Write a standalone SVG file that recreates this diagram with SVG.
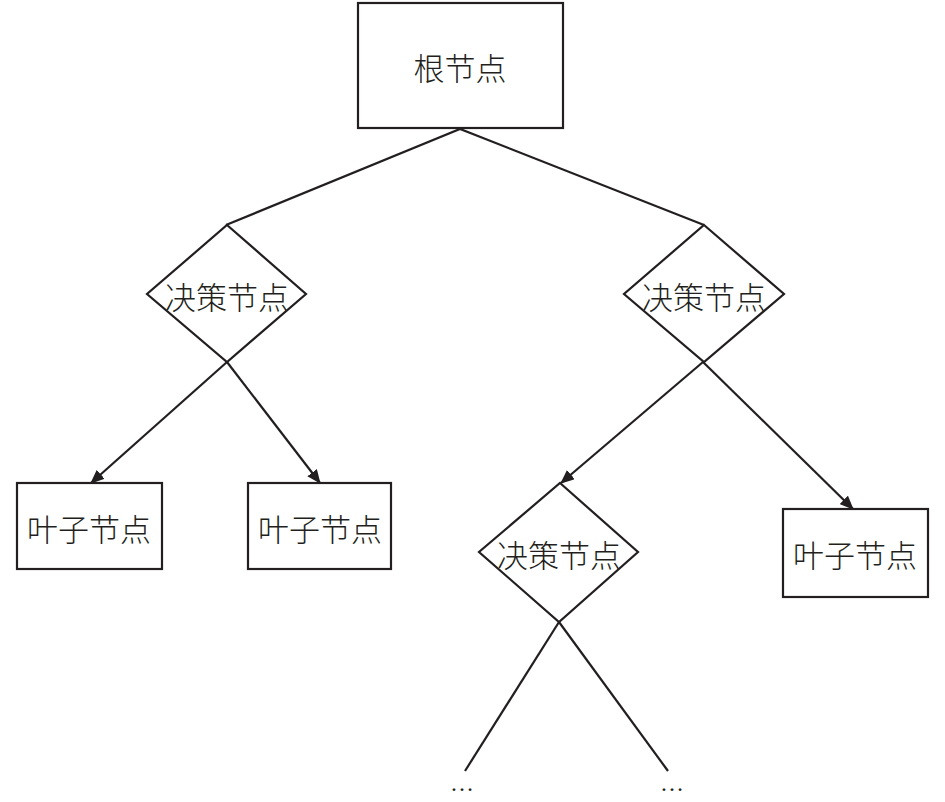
<svg xmlns="http://www.w3.org/2000/svg" width="945" height="802" viewBox="0 0 945 802">
<style>
.box{fill:#fff;stroke:#231f20;stroke-width:2.2}
.lbl{font-family:"Noto Sans CJK SC","Noto Sans CJK JP",sans-serif;font-size:31px;font-weight:300;fill:#231f20;text-anchor:middle;dominant-baseline:central}
.edge{fill:none;stroke:#231f20;stroke-width:2.2}
.dots{font-family:"Liberation Serif",serif;font-size:24px;fill:#231f20;text-anchor:middle}
</style>
<defs>
<marker id="arr" markerUnits="userSpaceOnUse" markerWidth="14" markerHeight="12" refX="13" refY="6" orient="auto">
<path d="M0,0 L14,6 L0,12 Z" fill="#231f20"/>
</marker>
</defs>
<g id="connectors">
<polyline class="edge" points="226,225 460,129 704,225"/>
<line class="edge" x1="227" y1="362" x2="91" y2="483" marker-end="url(#arr)"/>
<line class="edge" x1="227" y1="362" x2="320" y2="483" marker-end="url(#arr)"/>
<line class="edge" x1="703" y1="362" x2="561" y2="483" marker-end="url(#arr)"/>
<line class="edge" x1="703" y1="362" x2="853" y2="509" marker-end="url(#arr)"/>
<line class="edge" x1="559" y1="622" x2="465" y2="771"/>
<line class="edge" x1="559" y1="622" x2="668" y2="771"/>
</g>
<g id="root">
<rect class="box" x="358" y="3" width="205" height="125"/>
<text class="lbl" x="460" y="66">根节点</text>
</g>
<g id="decision1">
<polygon class="box" points="227,225 306,294 227,362 147,294"/>
<text class="lbl" x="227" y="295">决策节点</text>
</g>
<g id="decision2">
<polygon class="box" points="704,225 784,294 704,362 624,294"/>
<text class="lbl" x="704" y="295">决策节点</text>
</g>
<g id="leaf1">
<rect class="box" x="17" y="483" width="145" height="86"/>
<text class="lbl" x="89" y="527">叶子节点</text>
</g>
<g id="leaf2">
<rect class="box" x="248" y="483" width="143" height="86"/>
<text class="lbl" x="320" y="527">叶子节点</text>
</g>
<g id="decision3">
<polygon class="box" points="560,483 638,552 559,622 479,552"/>
<text class="lbl" x="559" y="553">决策节点</text>
</g>
<g id="leaf3">
<rect class="box" x="783" y="509" width="145" height="88"/>
<text class="lbl" x="855" y="553">叶子节点</text>
</g>
<g id="more">
<text class="dots" x="462" y="791">…</text>
<text class="dots" x="672" y="791">…</text>
</g>
</svg>
